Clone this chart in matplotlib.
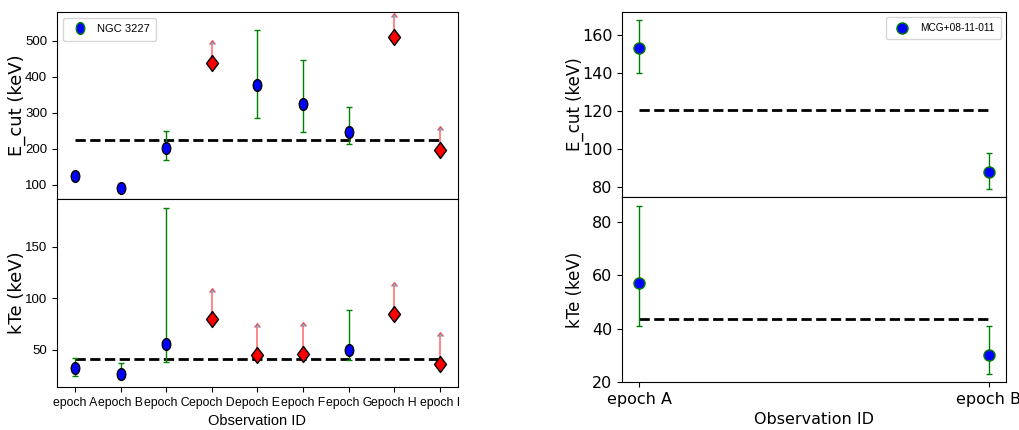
import matplotlib
matplotlib.use("Agg")
import matplotlib.pyplot as plt
from matplotlib.path import Path
from matplotlib.transforms import Affine2D
import numpy as np

# NGC 3227
ngc_epochs = ["epoch A", "epoch B", "epoch C", "epoch D", "epoch E",
              "epoch F", "epoch G", "epoch H", "epoch I"]
ngc_ecut = [126, 91, 202, 438, 377, 325, 248, 510, 197]
ngc_ecut_lo = [121, 87, 170, 438, 285, 247, 213, 510, 197]
ngc_ecut_hi = [131, 95, 250, 492, 530, 447, 315, 565, 252]
ngc_ecut_limit = [False, False, False, True, False, False, False, True, True]
ngc_ecut_mean = 224

ngc_kte = [32, 27, 56, 80, 45, 46, 50, 85, 36]
ngc_kte_lo = [25, 22, 38, 80, 45, 46, 40, 85, 36]
ngc_kte_hi = [42, 37, 187, 106, 72, 73, 89, 112, 63]
ngc_kte_limit = [False, False, False, True, True, True, False, True, True]
ngc_kte_mean = 41

# MCG+08-11-011
mcg_epochs = ["epoch A", "epoch B"]
mcg_ecut = [153, 88]
mcg_ecut_lo = [140, 79]
mcg_ecut_hi = [168, 98]
mcg_ecut_mean = 120.5

mcg_kte = [57, 30]
mcg_kte_lo = [41, 23]
mcg_kte_hi = [86, 41]
mcg_kte_mean = 43.5

NARROW = "Liberation Sans"

# the left figure in the reference is squeezed sideways
oval = Affine2D().scale(0.72, 1.0).transform_path(Path.unit_circle())
diamond = Path([(0, 1), (0.75, 0), (0, -1), (-0.75, 0), (0, 1)],
               [Path.MOVETO, Path.LINETO, Path.LINETO, Path.LINETO, Path.CLOSEPOLY])


def plot_panel(ax, labels, val, lo, hi, limit, mean, label=None, edge="black",
               mk="o", ms=8, dmk="D", dms=11):
    x = np.arange(len(labels))
    val = np.array(val, float)
    lo = np.array(lo, float)
    hi = np.array(hi, float)
    lim = np.array(limit, bool)
    det = ~lim
    ax.errorbar(x[det], val[det], yerr=[val[det] - lo[det], hi[det] - val[det]],
                fmt="none", ecolor="green", capsize=2, elinewidth=1, zorder=2)
    ax.plot(x[det], val[det], ls="none", marker=mk, mfc="blue", mec=edge,
            ms=ms, zorder=3)
    if lim.any():
        ax.errorbar(x[lim], val[lim], yerr=hi[lim] - val[lim], lolims=True,
                    fmt="none", ecolor="red", alpha=0.55, elinewidth=1.2,
                    capsize=2, zorder=2)
        ax.plot(x[lim], val[lim], ls="none", marker=dmk, mfc="red", mec="black",
                ms=dms, zorder=4)
    ax.plot([x[0], x[-1]], [mean, mean], "k--", lw=2, zorder=1)
    if label:
        ax.errorbar([], [], yerr=[], fmt="o", marker=mk, color="green",
                    ecolor="green", mfc="blue", mec="green", ms=ms, label=label)
    return x


fig = plt.figure(figsize=(10.2, 4.3), dpi=100)

ax1 = fig.add_axes([0.0559, 0.5372, 0.3931, 0.4349])
ax2 = fig.add_axes([0.0559, 0.1, 0.3931, 0.4372], sharex=ax1)
ax3 = fig.add_axes([0.6098, 0.5419, 0.3765, 0.4302])
ax4 = fig.add_axes([0.6098, 0.1116, 0.3765, 0.4302], sharex=ax3)

plot_panel(ax1, ngc_epochs, ngc_ecut, ngc_ecut_lo, ngc_ecut_hi, ngc_ecut_limit,
           ngc_ecut_mean, label="NGC 3227", mk=oval, ms=8.5, dmk=diamond, dms=11.5)
x = plot_panel(ax2, ngc_epochs, ngc_kte, ngc_kte_lo, ngc_kte_hi, ngc_kte_limit,
               ngc_kte_mean, mk=oval, ms=8.5, dmk=diamond, dms=11.5)
ax1.set_ylim(61, 580)
ax2.set_ylim(14, 196)
ax1.set_yticks([100, 200, 300, 400, 500])
ax2.set_yticks([50, 100, 150])
ax2.set_xticks(x)
ax2.set_xticklabels(ngc_epochs, fontsize=8.8, family=NARROW)
ax1.tick_params(axis="x", bottom=False, labelbottom=False)
for ax in (ax1, ax2):
    for t in ax.get_yticklabels():
        t.set_fontsize(9.5)
        t.set_family(NARROW)
ax1.set_ylabel("E_cut (keV)", fontsize=13)
ax2.set_ylabel("kTe (keV)", fontsize=13)
ax1.yaxis.set_label_coords(-0.078, 0.5)
ax2.yaxis.set_label_coords(-0.078, 0.5)
ax2.set_xlabel("Observation ID", fontsize=10.5, family=NARROW, labelpad=4)
ax1.legend(loc="upper left", prop={"family": NARROW, "size": 8},
           borderpad=0.6, handletextpad=0.5)

plot_panel(ax3, mcg_epochs, mcg_ecut, mcg_ecut_lo, mcg_ecut_hi, [False, False],
           mcg_ecut_mean, label="MCG+08-11-011", edge="green")
x = plot_panel(ax4, mcg_epochs, mcg_kte, mcg_kte_lo, mcg_kte_hi, [False, False],
               mcg_kte_mean, edge="green")
ax3.set_ylim(74.7, 172)
ax4.set_ylim(20, 89.2)
ax3.set_yticks([80, 100, 120, 140, 160])
ax4.set_yticks([20, 40, 60, 80])
ax4.set_xticks(x)
ax4.set_xticklabels(mcg_epochs, fontsize=11.5)
ax3.tick_params(axis="x", bottom=False, labelbottom=False)
ax3.tick_params(axis="y", labelsize=11.5)
ax4.tick_params(axis="y", labelsize=11.5)
ax3.set_ylabel("E_cut (keV)", fontsize=12)
ax4.set_ylabel("kTe (keV)", fontsize=12)
ax3.yaxis.set_label_coords(-0.10, 0.5)
ax4.yaxis.set_label_coords(-0.10, 0.5)
ax4.set_xlabel("Observation ID", fontsize=11.5)
ax3.legend(loc="upper right", prop={"family": NARROW, "size": 7.3},
           borderpad=0.6)

fig.savefig("out.png", dpi=100)
